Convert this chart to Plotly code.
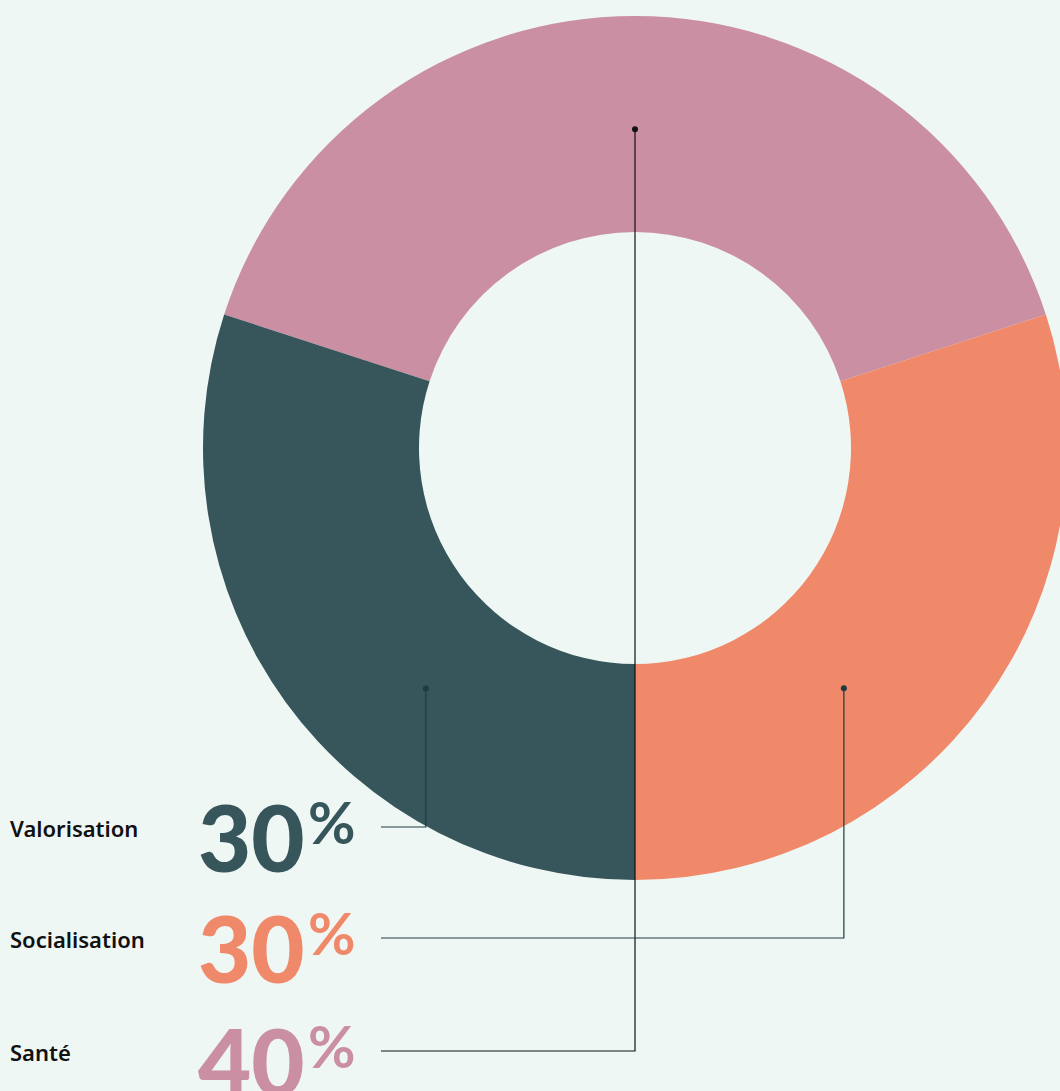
import math
import plotly.graph_objects as go

# ---- data ----
labels = ["Santé", "Socialisation", "Valorisation"]
values = [40, 30, 30]
colors = ["#CB8FA3", "#F0886A", "#37565B"]
line_colors = ["#111111", "#1F3B40", "#1F3B40"]
# leader dot placement (angle clockwise from 12 o'clock, radius as share of outer radius)
dot_angle = [0, 139, -139]
dot_rfrac = [0.738, 0.737, 0.738]
# legend rows (pixel y of the row centre)
row_y = [1052, 939, 828]

W, H = 1075, 1091
BG = "#EEF7F3"
CX, CY, R = 635, 448, 432

def px(x):
    return x / W

def py(y):
    return 1 - y / H

fig = go.Figure()
fig.add_trace(go.Pie(
    labels=labels, values=values, sort=False, direction="clockwise", rotation=-72,
    hole=0.5, marker=dict(colors=colors, line=dict(width=0)),
    textinfo="none", showlegend=False, hoverinfo="label+percent",
    domain=dict(x=[px(CX - R), px(CX + R)], y=[py(CY + R), py(CY - R)]),
))

shapes = []
annotations = []
for i, lab in enumerate(labels):
    a = math.radians(dot_angle[i])
    r = dot_rfrac[i] * R
    dx = CX + r * math.sin(a)
    dy = CY - r * math.cos(a)
    ly = row_y[i] - 1
    c = line_colors[i]
    shapes.append(dict(type="path", xref="paper", yref="paper", layer="above",
                       path=f"M {px(dx)} {py(dy)} L {px(dx)} {py(ly)} L {px(381)} {py(ly)}",
                       line=dict(color=c, width=1.2)))
    shapes.append(dict(type="circle", xref="paper", yref="paper", layer="above",
                       x0=px(dx - 3), x1=px(dx + 3), y0=py(dy + 3), y1=py(dy - 3),
                       fillcolor=c, line=dict(width=0)))
    annotations.append(dict(xref="paper", yref="paper", x=px(8), y=py(row_y[i]),
                            xanchor="left", yanchor="middle", showarrow=False,
                            text=lab, font=dict(family="Noto Sans", size=22, color="#111111", weight=600)))
    annotations.append(dict(xref="paper", yref="paper", x=px(196), y=py(row_y[i] + 8),
                            xanchor="left", yanchor="middle", showarrow=False,
                            text=str(values[i]), font=dict(family="Lato", size=92, color=colors[i], weight=900)))
    annotations.append(dict(xref="paper", yref="paper", x=px(306), y=py(row_y[i] - 7),
                            xanchor="left", yanchor="middle", showarrow=False,
                            text="%", font=dict(family="Lato", size=58, color=colors[i], weight=700)))

fig.update_layout(
    width=W, height=H, margin=dict(l=0, r=0, t=0, b=0),
    paper_bgcolor=BG, plot_bgcolor=BG,
    shapes=shapes, annotations=annotations,
)

fig.write_html("out.html", config={"displayModeBar": False},
               post_script="document.body.style.margin='0';document.body.style.overflow='hidden';document.body.style.background='%s';" % BG)
